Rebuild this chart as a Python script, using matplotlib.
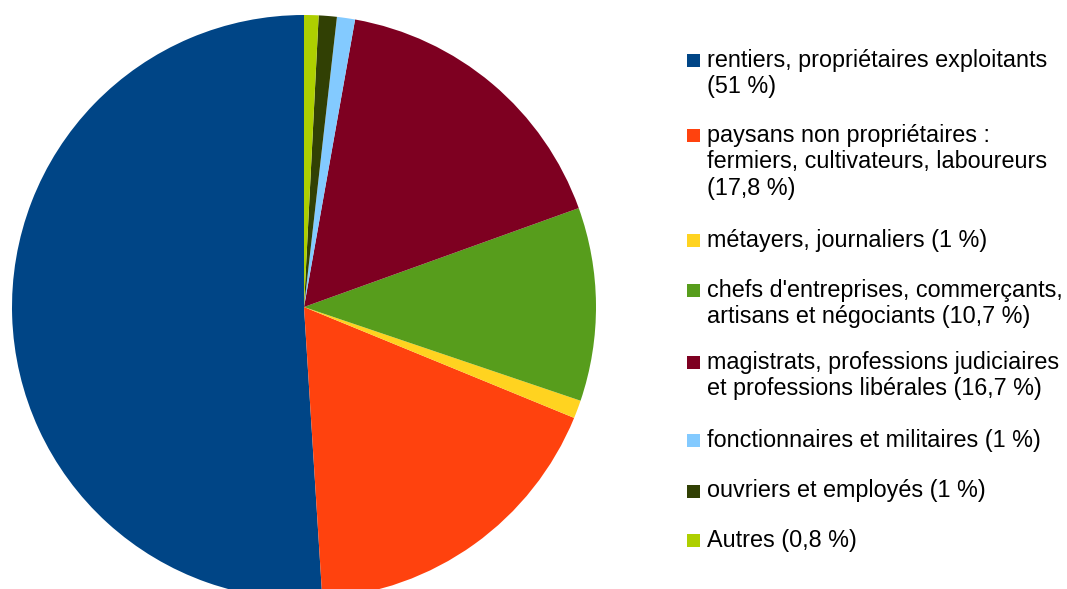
import matplotlib
matplotlib.use("Agg")
import matplotlib.pyplot as plt
from matplotlib.patches import Rectangle

labels = [
    "rentiers, propriétaires exploitants\n(51 %)",
    "paysans non propriétaires :\nfermiers, cultivateurs, laboureurs\n(17,8 %)",
    "métayers, journaliers (1 %)",
    "chefs d'entreprises, commerçants,\nartisans et négociants (10,7 %)",
    "magistrats, professions judiciaires\net professions libérales (16,7 %)",
    "fonctionnaires et militaires (1 %)",
    "ouvriers et employés (1 %)",
    "Autres (0,8 %)",
]
values = [51, 17.8, 1, 10.7, 16.7, 1, 1, 0.8]
colors = ["#004586", "#ff420e", "#ffd320", "#579d1c", "#7e0021",
          "#83caff", "#314004", "#aecf00"]

W, H = 1067, 589
fig = plt.figure(figsize=(W / 100, H / 100), dpi=100)
plt.rcParams['font.family'] = ['Liberation Sans', 'DejaVu Sans']

cx, cy, r = 304, 307, 292
ax = fig.add_axes([(cx - r) / W, (H - cy - r) / H, 2 * r / W, 2 * r / H])
ax.pie(values, colors=colors, startangle=90, counterclock=True,
       wedgeprops=dict(linewidth=0))
ax.set_aspect('equal')
ax.set_xlim(-1, 1)
ax.set_ylim(-1, 1)
ax.axis('off')

# legend drawn manually
first_line_y = [60, 135, 240, 290, 362, 440, 491, 540]
line_h = 26.5
for lab, col, y in zip(labels, colors, first_line_y):
    sq = 13
    fig.patches.append(Rectangle(((687) / W, (H - y - sq / 2) / H), sq / W, sq / H,
                                 transform=fig.transFigure, facecolor=col,
                                 edgecolor='none'))
    for i, line in enumerate(lab.split("\n")):
        fig.text(707 / W, (H - (y + i * line_h)) / H, line, fontsize=16.8,
                 va='center', ha='left', color='#000000')

fig.savefig("out.png", dpi=100)
